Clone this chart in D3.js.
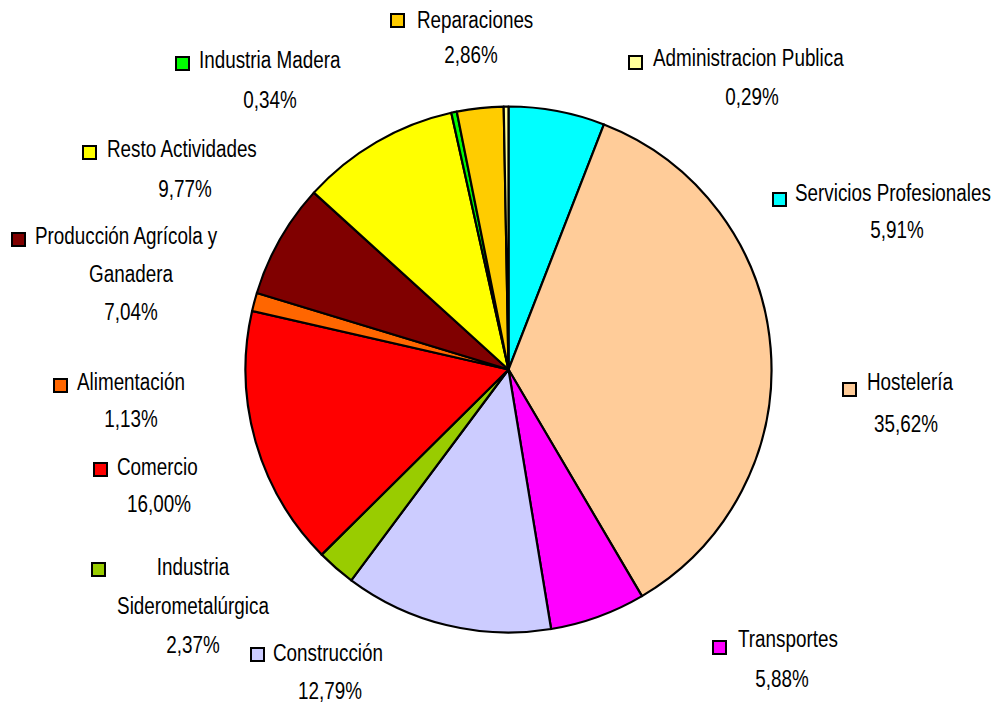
<!DOCTYPE html>
<html>
<head>
<meta charset="utf-8">
<script src="https://cdn.jsdelivr.net/npm/d3@7/dist/d3.min.js"></script>
<style>
  html, body { margin: 0; padding: 0; background: #fff; }
  svg text { font-family: "Liberation Sans Narrow", "Arial Narrow", "Liberation Sans", Arial, sans-serif; font-size: 23px; fill: #000; }
</style>
</head>
<body>
<svg id="chart" width="1006" height="705"></svg>
<script>
// Sectors, clockwise from 12 o'clock
const categories = [
  "Servicios Profesionales", "Hostelería", "Transportes", "Construcción",
  "Industria Siderometalúrgica", "Comercio", "Alimentación",
  "Producción Agrícola y Ganadera", "Resto Actividades", "Industria Madera",
  "Reparaciones", "Administracion Publica"
];
const shares = [5.91, 35.62, 5.88, 12.79, 2.37, 16.00, 1.13, 7.04, 9.77, 0.34, 2.86, 0.29];
const colors = [
  "#00FFFF", "#FFCC99", "#FF00FF", "#CCCCFF", "#99CC00", "#FF0000",
  "#FF6600", "#800000", "#FFFF00", "#00FF00", "#FFCC00", "#FFFF99"
];
// Label text lines (name wrapped as displayed)
const labelLines = [
  ["Servicios Profesionales"], ["Hostelería"], ["Transportes"], ["Construcción"],
  ["Industria", "Siderometalúrgica"], ["Comercio"], ["Alimentación"],
  ["Producción Agrícola y", "Ganadera"], ["Resto Actividades"], ["Industria Madera"],
  ["Reparaciones"], ["Administracion Publica"]
];

// Label placement: key box (kx, ky), first-line start tx (null = centred),
// text column centre cx, first baseline y, line step
const labelLayout = [
  { kx: 772, ky: 192, tx: 795, cx: 897, y: 201, step: 37 },
  { kx: 842, ky: 382, tx: 867, cx: 906, y: 390, step: 42 },
  { kx: 712, ky: 640, tx: 738, cx: 782, y: 647, step: 40 },
  { kx: 250, ky: 647, tx: 273, cx: 330, y: 661, step: 38 },
  { kx: 91,  ky: 562, tx: null, cx: 193, y: 575, step: 39 },
  { kx: 93,  ky: 462, tx: 117, cx: 159, y: 475, step: 37 },
  { kx: 53,  ky: 378, tx: 77,  cx: 131, y: 390, step: 37 },
  { kx: 11,  ky: 232, tx: 35,  cx: 131, y: 244, step: 38 },
  { kx: 82,  ky: 145, tx: 107, cx: 185, y: 157, step: 40 },
  { kx: 175, ky: 56,  tx: 199, cx: 270, y: 68,  step: 40 },
  { kx: 390, ky: 13,  tx: 417, cx: 471, y: 28,  step: 35 },
  { kx: 628, ky: 55,  tx: 653, cx: 752, y: 66,  step: 39 }
];

// Condensed look: the text is squeezed horizontally around its anchor
const squeeze = 0.82;

const svg = d3.select("#chart");
const cx = 508.5, cy = 369.5, radius = 263;

const pie = d3.pie().sort(null).value(d => d)
  .startAngle(0).endAngle(2 * Math.PI);
const arc = d3.arc().innerRadius(0).outerRadius(radius);

const g = svg.append("g").attr("transform", `translate(${cx},${cy})`);
g.selectAll("path.slice")
  .data(pie(shares))
  .join("path")
  .attr("class", "slice")
  .attr("d", arc)
  .attr("fill", (d, i) => colors[i])
  .attr("stroke", "#000")
  .attr("stroke-width", 2.2)
  .attr("stroke-linejoin", "round");

const fmt = v => d3.format(".2f")(v).replace(".", ",") + "%";

const labels = svg.selectAll("g.label")
  .data(categories.map((c, i) => ({ name: c, value: shares[i], color: colors[i], lines: labelLines[i], pos: labelLayout[i] })))
  .join("g")
  .attr("class", "label");

labels.append("rect")
  .attr("x", d => d.pos.kx + 1)
  .attr("y", d => d.pos.ky + 1)
  .attr("width", 13)
  .attr("height", 13)
  .attr("fill", d => d.color)
  .attr("stroke", "#000")
  .attr("stroke-width", 2);

labels.each(function (d) {
  const sel = d3.select(this);
  const lines = d.lines.concat([fmt(d.value)]);
  lines.forEach((t, j) => {
    const leftStart = j === 0 && d.pos.tx !== null;
    const x = leftStart ? d.pos.tx : d.pos.cx;
    sel.append("text")
      .attr("transform", `translate(${x},${d.pos.y + j * d.pos.step}) scale(${squeeze},1)`)
      .attr("text-anchor", leftStart ? "start" : "middle")
      .text(t);
  });
});
</script>
</body>
</html>
